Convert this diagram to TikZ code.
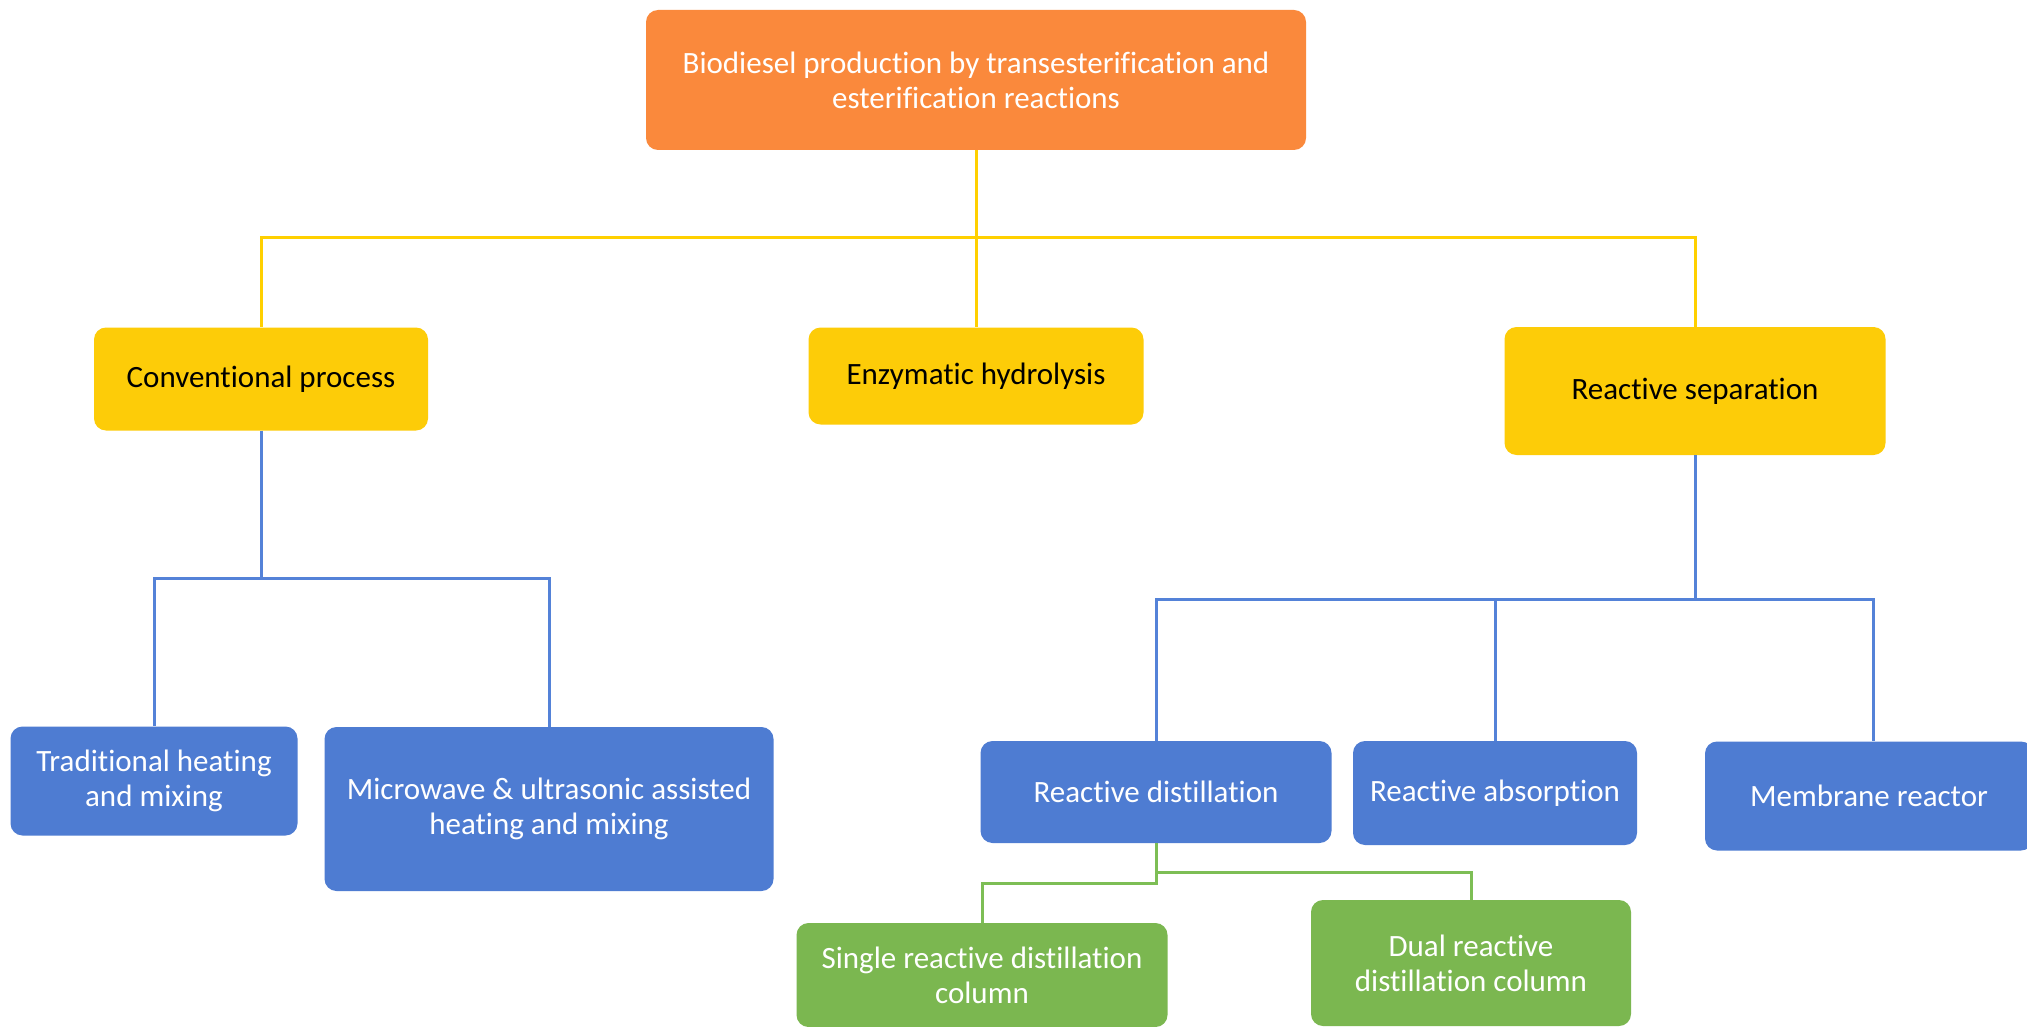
\documentclass[tikz,border=0pt]{standalone}
\usepackage{fontspec}
\setmainfont{Carlito}[Ligatures=NoCommon]
\definecolor{corange}{RGB}{250,137,60}
\definecolor{cyellow}{RGB}{253,204,8}
\definecolor{cblue}{RGB}{78,124,210}
\definecolor{cgreen}{RGB}{123,183,80}
\definecolor{lyellow}{RGB}{255,208,0}
\definecolor{lblue}{RGB}{84,130,216}
\definecolor{lgreen}{RGB}{125,190,85}
\tikzset{
  box/.style={rectangle, rounded corners=12pt, draw=none, align=center,
    inner sep=0pt, font=\fontsize{31}{35}\selectfont},
  obox/.style={box, fill=corange, text=white},
  ybox/.style={box, fill=cyellow, text=black},
  bbox/.style={box, fill=cblue, text=white},
  gbox/.style={box, fill=cgreen, text=white},
  yline/.style={draw=lyellow, line width=3pt},
  bline/.style={draw=lblue, line width=3pt},
  gline/.style={draw=lgreen, line width=3pt},
}
\begin{document}
\begin{tikzpicture}[x=1pt,y=-1pt]
\fill[white] (0,0) rectangle (2027,1027);
\clip (0,0) rectangle (2027,1027);
\useasboundingbox (0,0) rectangle (2027,1027);

\node[obox, minimum width=660pt, minimum height=140pt] (top) at (976,80)
  {Biodiesel production by transesterification and\\esterification reactions};

\node[ybox, minimum width=334pt, minimum height=103pt] (conv) at (261,379) {Conventional process};
\node[ybox, minimum width=335pt, minimum height=97pt] (enz) at (976,376) {Enzymatic hydrolysis};
\node[ybox, minimum width=381pt, minimum height=128pt] (rsep) at (1695,391) {Reactive separation};

\node[bbox, minimum width=287pt, minimum height=109pt] (trad) at (154,781) {Traditional heating\\and mixing};
\node[bbox, minimum width=449pt, minimum height=164pt] (micro) at (549,809) {Microwave \& ultrasonic assisted\\heating and mixing};

\node[bbox, minimum width=351pt, minimum height=102pt] (rd) at (1156,792) {Reactive distillation};
\node[bbox, minimum width=284pt, minimum height=104pt] (ra) at (1495,793) {Reactive absorption};
\node[bbox, minimum width=328pt, minimum height=109pt] (mr) at (1869,796) {Membrane reactor};

\node[gbox, minimum width=371pt, minimum height=104pt] (single) at (982,975) {Single reactive distillation\\column};
\node[gbox, minimum width=320pt, minimum height=126pt] (dual) at (1471,963) {Dual reactive\\distillation column};

% yellow connectors
\coordinate (ybus) at (976,238);
\draw[yline] (top.south) -- (ybus);
\draw[yline] (ybus) -- (enz.north);
\draw[yline] (ybus) -| (conv.north);
\draw[yline] (ybus) -| (rsep.north);

% blue connectors (conventional)
\coordinate (cbus) at (261,578);
\draw[bline] (conv.south) -- (cbus);
\draw[bline] (cbus) -| (trad.north);
\draw[bline] (cbus) -| (micro.north);

% blue connectors (reactive separation)
\coordinate (rbus) at (1695,599);
\draw[bline] (rsep.south) -- (rbus);
\draw[bline] (rbus) -| (rd.north);
\draw[bline] (rbus) -| (ra.north);
\draw[bline] (rbus) -| ([xshift=4pt]mr.north);

% green connectors
\coordinate (gl) at (1156,883);
\coordinate (gr) at (1156,872);
\draw[gline] (rd.south) -- (gl) -| (single.north);
\draw[gline] (gr) -| (dual.north);
\end{tikzpicture}
\end{document}
